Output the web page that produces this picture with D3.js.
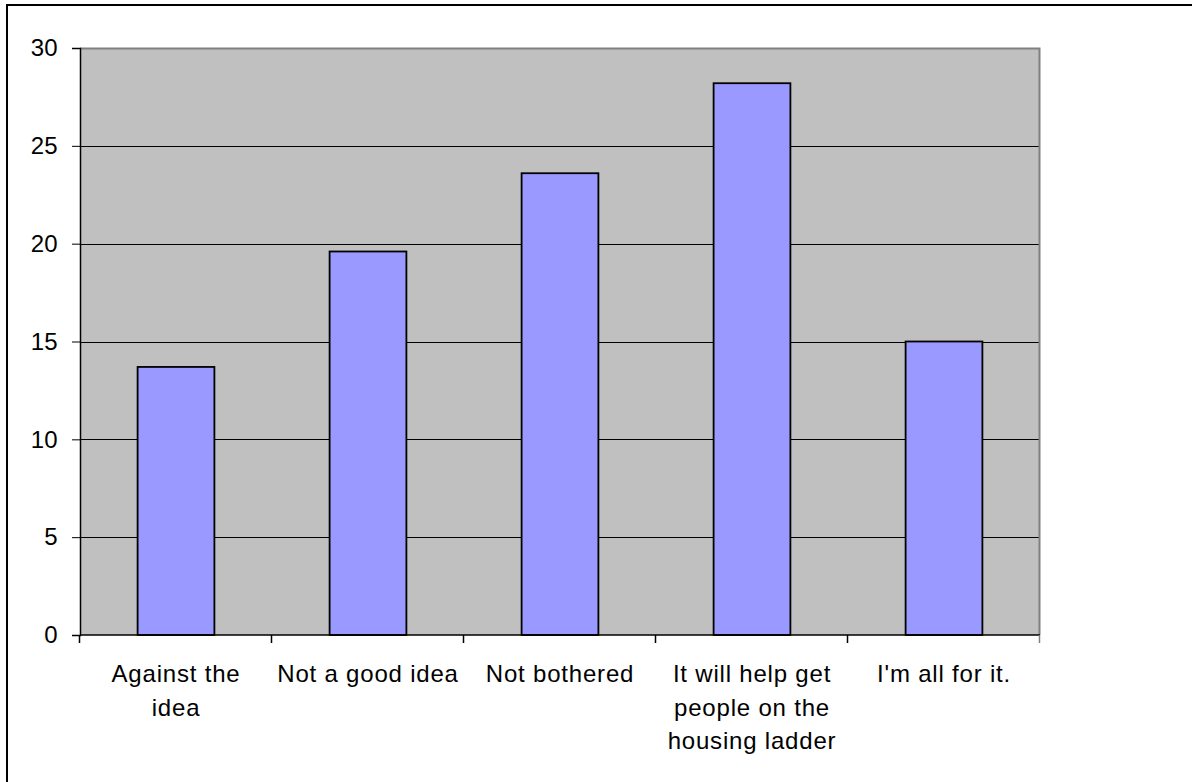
<!DOCTYPE html>
<html>
<head>
<meta charset="utf-8">
<script src="https://cdn.jsdelivr.net/npm/d3@7"></script>
<style>
  html, body { margin: 0; padding: 0; background: #fff; }
  svg { display: block; }
  text { font-family: "Liberation Sans", Arial, sans-serif; fill: #000; }
</style>
</head>
<body>
<svg id="chart" width="1192" height="782"></svg>
<script>
// Survey responses
const categories = [
  ["Against the", "idea"],
  ["Not a good idea"],
  ["Not bothered"],
  ["It will help get", "people on the", "housing ladder"],
  ["I'm all for it."]
];
const values = [13.7, 19.6, 23.6, 28.2, 15.0];
const yTicks = [0, 5, 10, 15, 20, 25, 30];

const svg = d3.select("#chart");
const plot = { left: 80, right: 1040, top: 48, bottom: 635 };

// Outer frame (runs off the right and bottom edges)
svg.append("rect")
  .attr("x", 7).attr("y", 5)
  .attr("width", 1300).attr("height", 900)
  .attr("fill", "none").attr("stroke", "#000").attr("stroke-width", 2);

const x = d3.scaleBand()
  .domain(d3.range(categories.length))
  .range([plot.left, plot.right])
  .paddingInner(0).paddingOuter(0);

const y = d3.scaleLinear().domain([0, 30]).range([plot.bottom, plot.top]);

// Plot background
svg.append("rect")
  .attr("x", plot.left).attr("y", plot.top)
  .attr("width", plot.right - plot.left).attr("height", plot.bottom - plot.top)
  .attr("fill", "#c0c0c0");

// Gridlines
svg.append("g").selectAll("line")
  .data(yTicks.filter(t => t > 0 && t < 30))
  .join("line")
  .attr("x1", plot.left).attr("x2", plot.right)
  .attr("y1", d => Math.round(y(d)) + 0.5).attr("y2", d => Math.round(y(d)) + 0.5)
  .attr("stroke", "#000").attr("stroke-width", 1);

// Plot border top and right
svg.append("path")
  .attr("d", `M${plot.left},${plot.top + 0.5}H${plot.right - 0.5}V${plot.bottom}`)
  .attr("fill", "none").attr("stroke", "#808080").attr("stroke-width", 2);

// Bars
const bw = x.bandwidth() * 0.4;
svg.append("g").selectAll("rect")
  .data(values)
  .join("rect")
  .attr("x", (d, i) => x(i) + (x.bandwidth() - bw) / 2)
  .attr("y", d => y(d))
  .attr("width", bw)
  .attr("height", d => y(0) - y(d))
  .attr("fill", "#9999ff")
  .attr("stroke", "#000")
  .attr("stroke-width", 1.8);

// Y axis
const yAxis = svg.append("g")
  .attr("transform", `translate(${plot.left},0)`)
  .call(d3.axisLeft(y).tickValues(yTicks).tickSize(8).tickPadding(14).tickFormat(d3.format("d")));
yAxis.select(".domain").attr("stroke", "#000").attr("stroke-width", 1.5);
yAxis.selectAll(".tick line").attr("stroke", "#000");
yAxis.selectAll(".tick text")
  .attr("font-size", 24).attr("font-family", "Liberation Sans, Arial, sans-serif")
  .attr("letter-spacing", 0.3).attr("fill", "#000");

// X axis line and category boundary ticks
svg.append("line")
  .attr("x1", plot.left).attr("x2", plot.right)
  .attr("y1", plot.bottom).attr("y2", plot.bottom)
  .attr("stroke", "#000").attr("stroke-width", 1.5);
const bounds = d3.range(categories.length + 1).map(i => i < categories.length ? x(i) : plot.right);
svg.append("g").selectAll("line")
  .data(bounds)
  .join("line")
  .attr("x1", d => Math.round(d) - 0.5).attr("x2", d => Math.round(d) - 0.5)
  .attr("y1", plot.bottom).attr("y2", plot.bottom + 8)
  .attr("stroke", (d, i) => i === categories.length ? "#808080" : "#000")
  .attr("stroke-width", 1.5);

// Category labels
const lab = svg.append("g").selectAll("text")
  .data(categories)
  .join("text")
  .attr("x", (d, i) => x(i) + x.bandwidth() / 2)
  .attr("y", plot.bottom + 47)
  .attr("text-anchor", "middle")
  .attr("font-size", 24)
  .attr("letter-spacing", 0.8);
lab.selectAll("tspan")
  .data(d => d)
  .join("tspan")
  .attr("x", function () { return this.parentNode.getAttribute("x"); })
  .attr("dy", (d, i) => i === 0 ? 0 : 33.5)
  .text(d => d);
</script>
</body>
</html>
